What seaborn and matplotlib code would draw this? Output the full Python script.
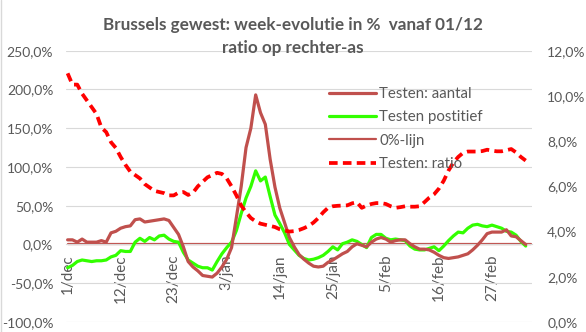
import numpy as np
import pandas as pd
import matplotlib
matplotlib.use("Agg")
import matplotlib.pyplot as plt
import seaborn as sns

# ---- data (daily, starting 1 december) ----
aantal = [6, 6, 3, 7, 3, 3, 3, 5, 3, 15,
          17, 21, 23, 24, 32, 33, 29, 30, 31, 32,
          33, 31, 22, 13, -3, -22, -29, -34, -40, -41,
          -42, -37, -29, -19, -4, 35, 75, 125, 150, 193,
          170, 155, 110, 74, 47, 28, 9, -3, -13, -19,
          -24, -28, -29, -28, -23, -20, -16, -12, -9, -3,
          1, -1, -3, 3, 7, 9, 7, 3, 5, 6,
          6, 1, -3, -6, -6, -7, -10, -14, -17, -18,
          -17, -16, -14, -12, -7, -1, 6, 14, 16, 16,
          16, 19, 11, 10, 5, 0]
positief = [-30, -27, -22, -20, -21, -22, -21, -21, -20, -16,
            -14, -8, -9, -9, 3, 8, 4, 9, 6, 11,
            12, 7, 4, 3, -10, -20, -24, -28, -30, -30,
            -33, -22, -12, -4, 3, 18, 40, 60, 75, 95,
            82, 87, 62, 38, 27, 15, 0, -7, -14, -18,
            -20, -19, -17, -14, -9, -3, -7, 1, 3, 6,
            4, 0, -4, 9, 13, 13, 8, 6, 7, 6,
            5, -2, -6, -7, -7, -5, -3, -8, -2, 5,
            11, 16, 15, 21, 25, 26, 24, 23, 25, 23,
            21, 17, 16, 12, 4, -2]
ratio = [11.0, 10.5, 10.5, 10.1, 9.8, 9.5, 9.2, 8.6, 8.4, 7.95,
         7.7, 7.3, 6.95, 6.65, 6.5, 6.35, 6.1, 5.95, 5.8, 5.75,
         5.7, 5.6, 5.6, 5.72, 5.75, 5.62, 5.72, 6.0, 6.2, 6.4,
         6.5, 6.6, 6.55, 6.35, 6.0, 5.6, 5.15, 4.85, 4.6, 4.45,
         4.35, 4.3, 4.25, 4.2, 4.1, 4.05, 4.0, 4.02, 4.07, 4.15,
         4.25, 4.4, 4.6, 4.85, 5.05, 5.12, 5.14, 5.15, 5.16, 5.25,
         5.3, 5.05, 5.15, 5.22, 5.26, 5.26, 5.22, 5.12, 5.05, 5.08,
         5.12, 5.1, 5.1, 5.12, 5.3, 5.5, 5.65, 5.9, 6.25, 6.7,
         7.05, 7.3, 7.48, 7.54, 7.54, 7.54, 7.56, 7.62, 7.58, 7.55,
         7.55, 7.6, 7.65, 7.5, 7.3, 7.14]
nul_lijn = [0] * 97
tick_labels = ["1/dec", "12/dec", "23/dec", "3/jan", "14/jan",
               "25/jan", "5/feb", "16/feb", "27/feb"]
tick_days = [0, 11, 22, 33, 44, 55, 66, 77, 88]
series_names = ["Testen: aantal", "Testen postitief", "0%-lijn", "Testen: ratio"]

days = np.arange(len(aantal))
df = pd.DataFrame({"dag": days, "aantal": aantal, "positief": positief,
                   "ratio": ratio})
df0 = pd.DataFrame({"dag": np.arange(len(nul_lijn)), "nul": nul_lijn})

sns.set_style("white")
plt.rcParams["font.family"] = ["Lato", "DejaVu Sans"]
txt = "#595959"
grid_c = "#D9D9D9"
brown = "#C0504D"
green = "#33FF00"
red = "#FF0000"

fig = plt.figure(figsize=(5.86, 3.32), dpi=100)
ax = fig.add_axes([0.1121, 0.0301, 0.7957, 0.8172])
ax2 = ax.twinx()

sns.lineplot(data=df0, x="dag", y="nul", ax=ax, color=brown, linewidth=1.6,
             label=series_names[2], zorder=2)
sns.lineplot(data=df, x="dag", y="positief", ax=ax, color=green, linewidth=2.3,
             label=series_names[1], zorder=3)
sns.lineplot(data=df, x="dag", y="aantal", ax=ax, color=brown, linewidth=2.3,
             label=series_names[0], zorder=4)
sns.lineplot(data=df, x="dag", y="ratio", ax=ax2, color=red, linewidth=2.7,
             linestyle=(0, (2.3, 1.4)), label=series_names[3])

ax.set_xlim(-0.4, 96.3)
ax.set_ylim(-100, 250)
ax2.set_ylim(0, 12)
ax.set_xlabel("")
ax.set_ylabel("")
ax2.set_ylabel("")

ax.yaxis.grid(True, color=grid_c, linewidth=0.8)
ax.set_axisbelow(True)
for s in ["top", "left", "right"]:
    ax.spines[s].set_visible(False)
    ax2.spines[s].set_visible(False)
ax2.spines["bottom"].set_visible(False)
ax.spines["bottom"].set_position(("data", 0))
ax.spines["bottom"].set_color(grid_c)
ax.tick_params(axis="x", length=4, color=grid_c, labelcolor=txt, labelsize=11,
               pad=3, labelrotation=90)
ax.tick_params(axis="y", length=0, labelcolor=txt, labelsize=10, pad=9)
ax2.tick_params(axis="y", length=0, labelcolor=txt, labelsize=10, pad=11)

ax.set_yticks(np.arange(-100, 251, 50))
ax.set_yticklabels([f"{v:.1f}%".replace(".", ",") for v in np.arange(-100, 251, 50)])
ax2.set_yticks(np.arange(0, 12.1, 2))
ax2.set_yticklabels([f"{v:.1f}%".replace(".", ",") for v in np.arange(0, 12.1, 2)])
ax.set_xticks(tick_days)
ax.set_xticklabels(tick_labels, rotation=90, va="top", ha="center")

# legend
h1, l1 = ax.get_legend_handles_labels()
h2, l2 = ax2.get_legend_handles_labels()
hd = dict(zip(l1 + l2, h1 + h2))
if ax.get_legend():
    ax.get_legend().remove()
if ax2.get_legend():
    ax2.get_legend().remove()
leg = ax2.legend([hd[n] for n in series_names], series_names,
                 loc="upper left", bbox_to_anchor=(329 / 586, 1 - 87 / 332),
                 bbox_transform=fig.transFigure, frameon=False, fontsize=10.8,
                 handlelength=3.1, handletextpad=0.25, labelspacing=0.62,
                 borderaxespad=0, borderpad=0)
for t in leg.get_texts():
    t.set_color(txt)

fig.text(0.5, 1 - 25 / 332, "Brussels gewest: week-evolutie in %  vanaf 01/12",
         ha="center", va="center", fontsize=12.3, fontweight="bold", color=txt)
fig.text(0.5, 1 - 48 / 332, "ratio op rechter-as",
         ha="center", va="center", fontsize=12.3, fontweight="bold", color=txt)

fig.add_artist(plt.Line2D([0.5 / 586, 0.5 / 586], [0, 1], transform=fig.transFigure,
                          color=grid_c, linewidth=1))

fig.savefig("out.png", dpi=100)
